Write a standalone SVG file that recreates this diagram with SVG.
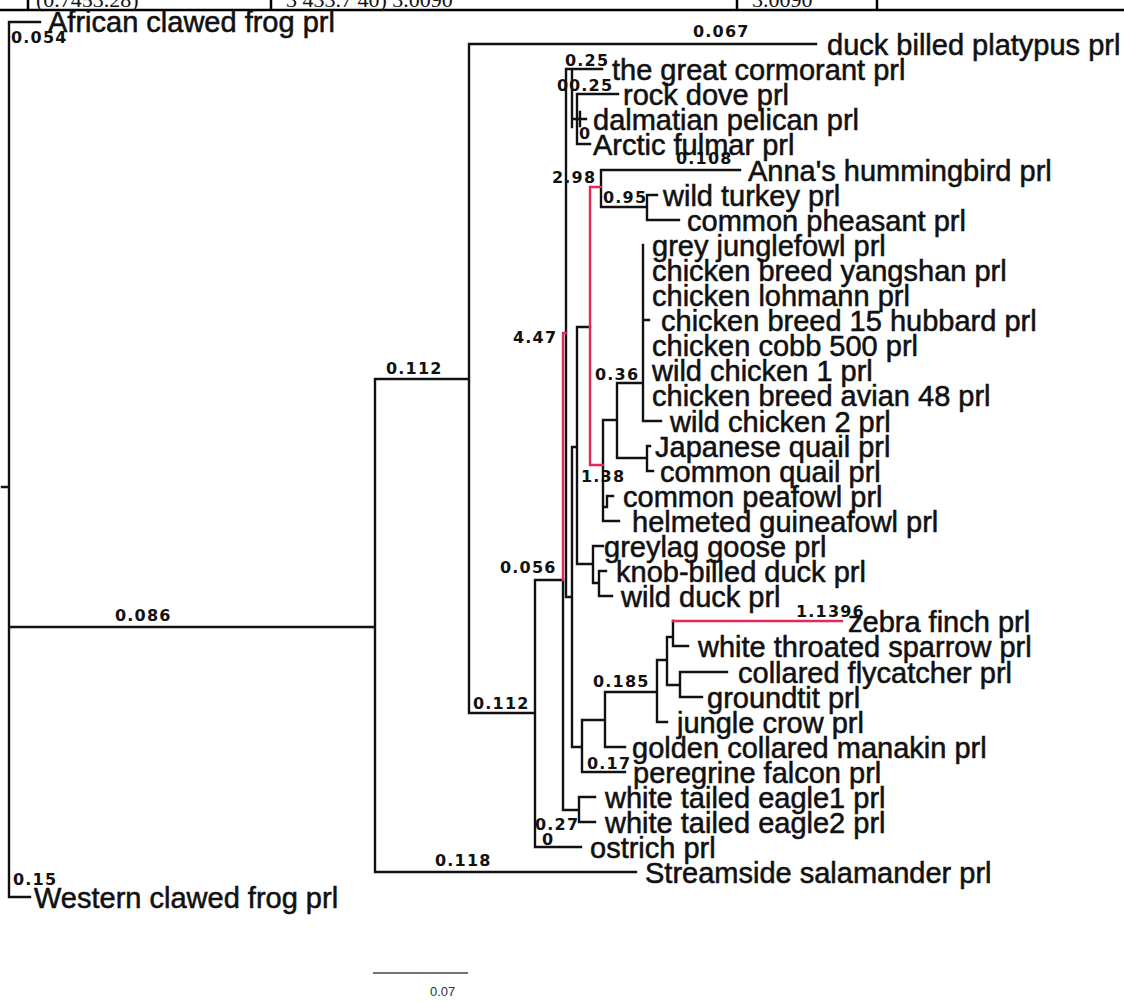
<svg xmlns="http://www.w3.org/2000/svg" width="1124" height="1002" viewBox="0 0 1124 1002">
<style>
.ln{fill:none;stroke:#111;stroke-width:2.4;stroke-linecap:square}
.rd{fill:none;stroke:#e3285a;stroke-width:2.4;stroke-linecap:square}
.tb{fill:none;stroke:#000;stroke-width:2.5}
.leaf{font-family:"Liberation Sans",Arial,sans-serif;font-size:29px;fill:#111;stroke:#111;stroke-width:0.55px}
.bl{font-family:"DejaVu Sans",Verdana,sans-serif;font-size:16px;font-weight:bold;letter-spacing:1.2px;fill:#111}
.tt{font-family:"Liberation Serif",serif;font-size:22px;fill:#111}
.sc{font-family:"Liberation Sans",Arial,sans-serif;font-size:13px;fill:#333}
</style>
<rect width="1124" height="1002" fill="#fff"/>
<g id="table">
<path class="tb" d="M0 10H1124M28 0V10M271 0V10M737 0V10M877 0V10"/>
<text class="tt" x="36" y="7">(0.7453.28)</text>
<text class="tt" x="286" y="7">3 433.7 40) 3.0090</text>
<text class="tt" x="752" y="7">3.0090</text>
</g>
<g id="connectors">
<path class="ln" d="M9 22V897M9 22H40M9 897H30M2 487H9M9 627H375M375 379V872M375 872H636M375 379H469M469 44V713M469 44H816M469 713H535M535 580V847M535 847H581M535 580H563M563 580V810M563 810H579M579 797V822M579 797H595M579 822H595M566 69V597M566 69H602M572 69V127M577 94V144M577 94H618M577 144H590M572 119H586M580 112V126M566 597H572M572 447V747M572 447H577M577 327V564M577 327H590M577 564H593M593 546V583M593 546H603M593 583H599M599 571V596M599 571H606M599 596H612M601 170V207M601 170H740M601 207H647M647 195V220M647 195H657M647 220H679M603 420V521M603 420H617M603 521H619M603 507H607M607 496V507M607 496H613M617 383V458M617 383H643M617 458H647M647 446V471M647 446H650M647 471H653M643 245V421M643 320H649M643 421H661M572 747H582M582 720V772M582 772H625M582 720H605M605 692V747M605 747H625M605 692H657M657 660V722M657 722H667M657 660H667M667 637V685M667 637H673M673 621V646M673 646H688M667 685H680M680 672V697M680 672H727M680 697H702"/>
<path class="rd" d="M563 333V580M563 333H566M590 187V465M590 187H601M590 465H603M673 621H842"/>
</g>
<g id="branch-lengths">
<text class="bl" x="11" y="43">0.054</text>
<text class="bl" x="13" y="885">0.15</text>
<text class="bl" x="115" y="621">0.086</text>
<text class="bl" x="386" y="374">0.112</text>
<text class="bl" x="435" y="866">0.118</text>
<text class="bl" x="693" y="37">0.067</text>
<text class="bl" x="473" y="709">0.112</text>
<text class="bl" x="500" y="573">0.056</text>
<text class="bl" x="513" y="343">4.47</text>
<text class="bl" x="552" y="183">2.98</text>
<text class="bl" x="676" y="164">0.108</text>
<text class="bl" x="603" y="203">0.95</text>
<text class="bl" x="595" y="380">0.36</text>
<text class="bl" x="581" y="482">1.38</text>
<text class="bl" x="593" y="687">0.185</text>
<text class="bl" x="587" y="769">0.17</text>
<text class="bl" x="535" y="830">0.27</text>
<text class="bl" x="542" y="845">0</text>
<text class="bl" x="796" y="617">1.1396</text>
<text class="bl" x="565" y="66">0.25</text>
<text class="bl" x="557" y="91">0</text>
<text class="bl" x="569" y="91">0.25</text>
<text class="bl" x="579" y="139">0</text>
</g>
<g id="n-african"><text class="leaf" x="48" y="32">African clawed frog prl</text></g>
<g id="n-western"><text class="leaf" x="34" y="908">Western clawed frog prl</text></g>
<g id="n-platypus"><text class="leaf" x="827" y="55">duck billed platypus prl</text></g>
<g id="n-cormorant"><text class="leaf" x="612" y="80">the great cormorant prl</text></g>
<g id="n-rockdove"><text class="leaf" x="623" y="105">rock dove prl</text></g>
<g id="n-pelican"><text class="leaf" x="593" y="130">dalmatian pelican prl</text></g>
<g id="n-fulmar"><text class="leaf" x="593" y="155">Arctic fulmar prl</text></g>
<g id="n-anna"><text class="leaf" x="748" y="181">Anna's hummingbird prl</text></g>
<g id="n-turkey"><text class="leaf" x="663" y="206">wild turkey prl</text></g>
<g id="n-pheasant"><text class="leaf" x="687" y="231">common pheasant prl</text></g>
<g id="n-junglefowl"><text class="leaf" x="652" y="256">grey junglefowl prl</text></g>
<g id="n-yangshan"><text class="leaf" x="652" y="281">chicken breed yangshan prl</text></g>
<g id="n-lohmann"><text class="leaf" x="652" y="306">chicken lohmann prl</text></g>
<g id="n-hubbard"><text class="leaf" x="661" y="331">chicken breed 15 hubbard prl</text></g>
<g id="n-cobb"><text class="leaf" x="652" y="356">chicken cobb 500 prl</text></g>
<g id="n-wildchicken1"><text class="leaf" x="652" y="381">wild chicken 1 prl</text></g>
<g id="n-avian48"><text class="leaf" x="652" y="406">chicken breed avian 48 prl</text></g>
<g id="n-wildchicken2"><text class="leaf" x="670" y="432">wild chicken 2 prl</text></g>
<g id="n-japquail"><text class="leaf" x="655" y="457">Japanese quail prl</text></g>
<g id="n-comquail"><text class="leaf" x="660" y="482">common quail prl</text></g>
<g id="n-peafowl"><text class="leaf" x="623" y="507">common peafowl prl</text></g>
<g id="n-guineafowl"><text class="leaf" x="632" y="532">helmeted guineafowl prl</text></g>
<g id="n-greylag"><text class="leaf" x="604" y="557">greylag goose prl</text></g>
<g id="n-knob"><text class="leaf" x="616" y="582">knob-billed duck prl</text></g>
<g id="n-wildduck"><text class="leaf" x="621" y="607">wild duck prl</text></g>
<g id="n-zebra"><text class="leaf" x="848" y="632">zebra finch prl</text></g>
<g id="n-sparrow"><text class="leaf" x="698" y="657">white throated sparrow prl</text></g>
<g id="n-flycatcher"><text class="leaf" x="738" y="683">collared flycatcher prl</text></g>
<g id="n-groundtit"><text class="leaf" x="707" y="708">groundtit prl</text></g>
<g id="n-crow"><text class="leaf" x="677" y="733">jungle crow prl</text></g>
<g id="n-manakin"><text class="leaf" x="632" y="758">golden collared manakin prl</text></g>
<g id="n-falcon"><text class="leaf" x="633" y="783">peregrine falcon prl</text></g>
<g id="n-eagle1"><text class="leaf" x="605" y="808">white tailed eagle1 prl</text></g>
<g id="n-eagle2"><text class="leaf" x="605" y="833">white tailed eagle2 prl</text></g>
<g id="n-ostrich"><text class="leaf" x="590" y="858">ostrich prl</text></g>
<g id="n-salamander"><text class="leaf" x="645" y="883">Streamside salamander prl</text></g>
<g id="scale-bar">
<path d="M373 973H468" stroke="#444" stroke-width="1.5" fill="none"/>
<text class="sc" x="430" y="996">0.07</text>
</g>
</svg>
